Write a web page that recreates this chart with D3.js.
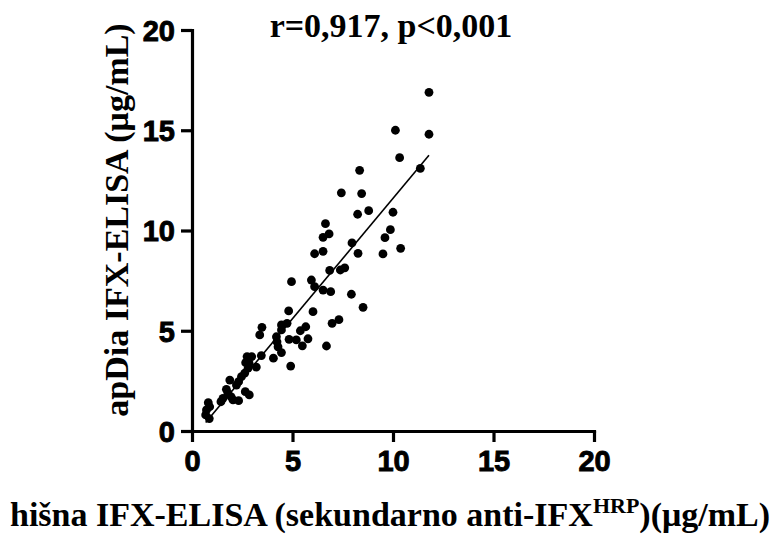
<!DOCTYPE html>
<html>
<head>
<meta charset="utf-8">
<script src="https://cdn.jsdelivr.net/npm/d3@7"></script>
<style>
  body { margin: 0; background: #fff; }
  svg { display: block; }
</style>
</head>
<body>
<svg width="779" height="536"></svg>
<script>
// in-house ELISA (x) vs apDia ELISA (y), µg/mL
var xValues = [11.79, 10.12, 11.79, 10.33, 11.36, 8.34, 7.43, 8.44, 8.24, 8.79,
    10.00, 6.64, 6.82, 6.52, 9.87, 7.96, 9.60, 6.10, 6.52, 8.26,
    9.50, 10.38, 6.85, 7.38, 7.60, 5.94, 6.10, 4.95, 6.52, 6.90,
    7.93, 8.51, 4.81, 6.02, 7.31, 6.97, 5.66, 5.39, 4.73, 4.45,
    4.45, 4.83, 5.19, 5.77, 5.49, 6.69, 4.45, 4.91, 3.48, 3.37,
    4.20, 4.23, 4.28, 2.74, 2.97, 3.45, 4.05, 2.67, 2.84, 3.20,
    2.79, 2.62, 2.46, 1.88, 2.32, 2.21, 1.71, 1.79, 2.65, 2.85,
    1.54, 1.95, 2.04, 2.32, 1.44, 0.81, 0.88, 0.72, 0.68, 0.86];
var yValues = [16.89, 15.00, 14.80, 13.63, 13.10, 13.00, 11.88, 11.84, 10.81, 10.99,
    10.91, 10.34, 9.83, 9.66, 10.04, 9.38, 9.64, 8.84, 8.96, 8.86,
    8.83, 9.11, 8.01, 8.03, 8.14, 7.53, 7.20, 7.45, 7.03, 6.95,
    6.82, 6.17, 5.99, 5.95, 5.55, 5.37, 5.20, 5.00, 5.37, 5.29,
    5.04, 4.57, 4.54, 4.60, 4.25, 4.24, 3.91, 3.24, 5.17, 4.79,
    4.70, 4.45, 4.20, 3.71, 3.71, 3.76, 3.63, 3.41, 3.38, 3.19,
    3.13, 2.88, 2.71, 2.54, 2.46, 2.29, 2.08, 1.88, 1.96, 1.80,
    1.63, 1.70, 1.55, 1.51, 1.46, 1.41, 1.21, 1.05, 0.80, 0.62];
var xTicks = [0, 5, 10, 15, 20];
var yTicks = [0, 5, 10, 15, 20];
var titleText = 'r=0,917, p<0,001';

var svg = d3.select('svg');
// plot box in pixels (note: 'top' is a reserved window prop, so use a prefix)
var plotLeft = 192, plotRight = 594, plotTop = 30, plotBottom = 431;

var x = d3.scaleLinear().domain([0, 20]).range([plotLeft, plotRight]);
var y = d3.scaleLinear().domain([0, 20]).range([plotBottom, plotTop]);

var points = xValues.map(function (v, i) { return { x: v, y: yValues[i] }; });

// least squares fit for the line
var mx = d3.mean(points, function (d) { return d.x; });
var my = d3.mean(points, function (d) { return d.y; });
var sxy = d3.sum(points, function (d) { return (d.x - mx) * (d.y - my); });
var sxx = d3.sum(points, function (d) { return (d.x - mx) * (d.x - mx); });
var slope = sxy / sxx, icpt = my - slope * mx;
var xExt = d3.extent(points, function (d) { return d.x; });

svg.selectAll('circle')
    .data(points)
    .enter().append('circle')
    .attr('cx', function (d) { return x(d.x); })
    .attr('cy', function (d) { return y(d.y); })
    .attr('r', 4.4)
    .attr('fill', '#000');

svg.append('line')
    .attr('x1', x(xExt[0])).attr('y1', y(icpt + slope * xExt[0]))
    .attr('x2', x(xExt[1])).attr('y2', y(icpt + slope * xExt[1]))
    .attr('stroke', '#000').attr('stroke-width', 1.6);

var xAxis = svg.append('g')
    .attr('transform', 'translate(0,' + plotBottom + ')')
    .call(d3.axisBottom(x).tickValues(xTicks).tickSize(11).tickPadding(8).tickSizeOuter(0));
var yAxis = svg.append('g')
    .attr('transform', 'translate(' + plotLeft + ',0)')
    .call(d3.axisLeft(y).tickValues(yTicks).tickSize(11).tickPadding(6).tickSizeOuter(0));

[xAxis, yAxis].forEach(function (g) {
    g.attr('font-family', null).attr('font-size', null);
    g.select('.domain').attr('stroke-width', 3.2).attr('stroke-linecap', 'square');
    g.selectAll('.tick line').attr('stroke-width', 3.2);
    g.selectAll('.tick text')
        .attr('fill', '#000')
        .attr('stroke', '#000')
        .attr('stroke-width', 0.9)
        .attr('font-family', 'Liberation Sans, Arial, sans-serif')
        .attr('font-weight', 'bold')
        .attr('font-size', 29);
});
yAxis.selectAll('.tick text').attr('dy', '0.36em');

svg.append('text')
    .attr('x', 391).attr('y', 37)
    .attr('text-anchor', 'middle')
    .style('font-family', 'Liberation Serif, Times New Roman, serif')
    .style('font-weight', 'bold')
    .style('font-size', '34px')
    .text(titleText);

var xt = svg.append('text')
    .attr('x', 390).attr('y', 526)
    .attr('text-anchor', 'middle')
    .style('font-family', 'Liberation Serif, Times New Roman, serif')
    .style('font-weight', 'bold')
    .style('font-size', '34px');
xt.append('tspan').text('hišna IFX-ELISA (sekundarno anti-IFX');
xt.append('tspan').attr('dy', -13).style('font-size', '22px').text('HRP');
xt.append('tspan').attr('dy', 13).text(')(μg/mL)');

svg.append('text')
    .attr('transform', 'translate(128,220) rotate(-90)')
    .attr('text-anchor', 'middle')
    .style('font-family', 'Liberation Serif, Times New Roman, serif')
    .style('font-weight', 'bold')
    .style('font-size', '34px')
    .text('apDia IFX-ELISA (μg/mL)');
</script>
</body>
</html>
